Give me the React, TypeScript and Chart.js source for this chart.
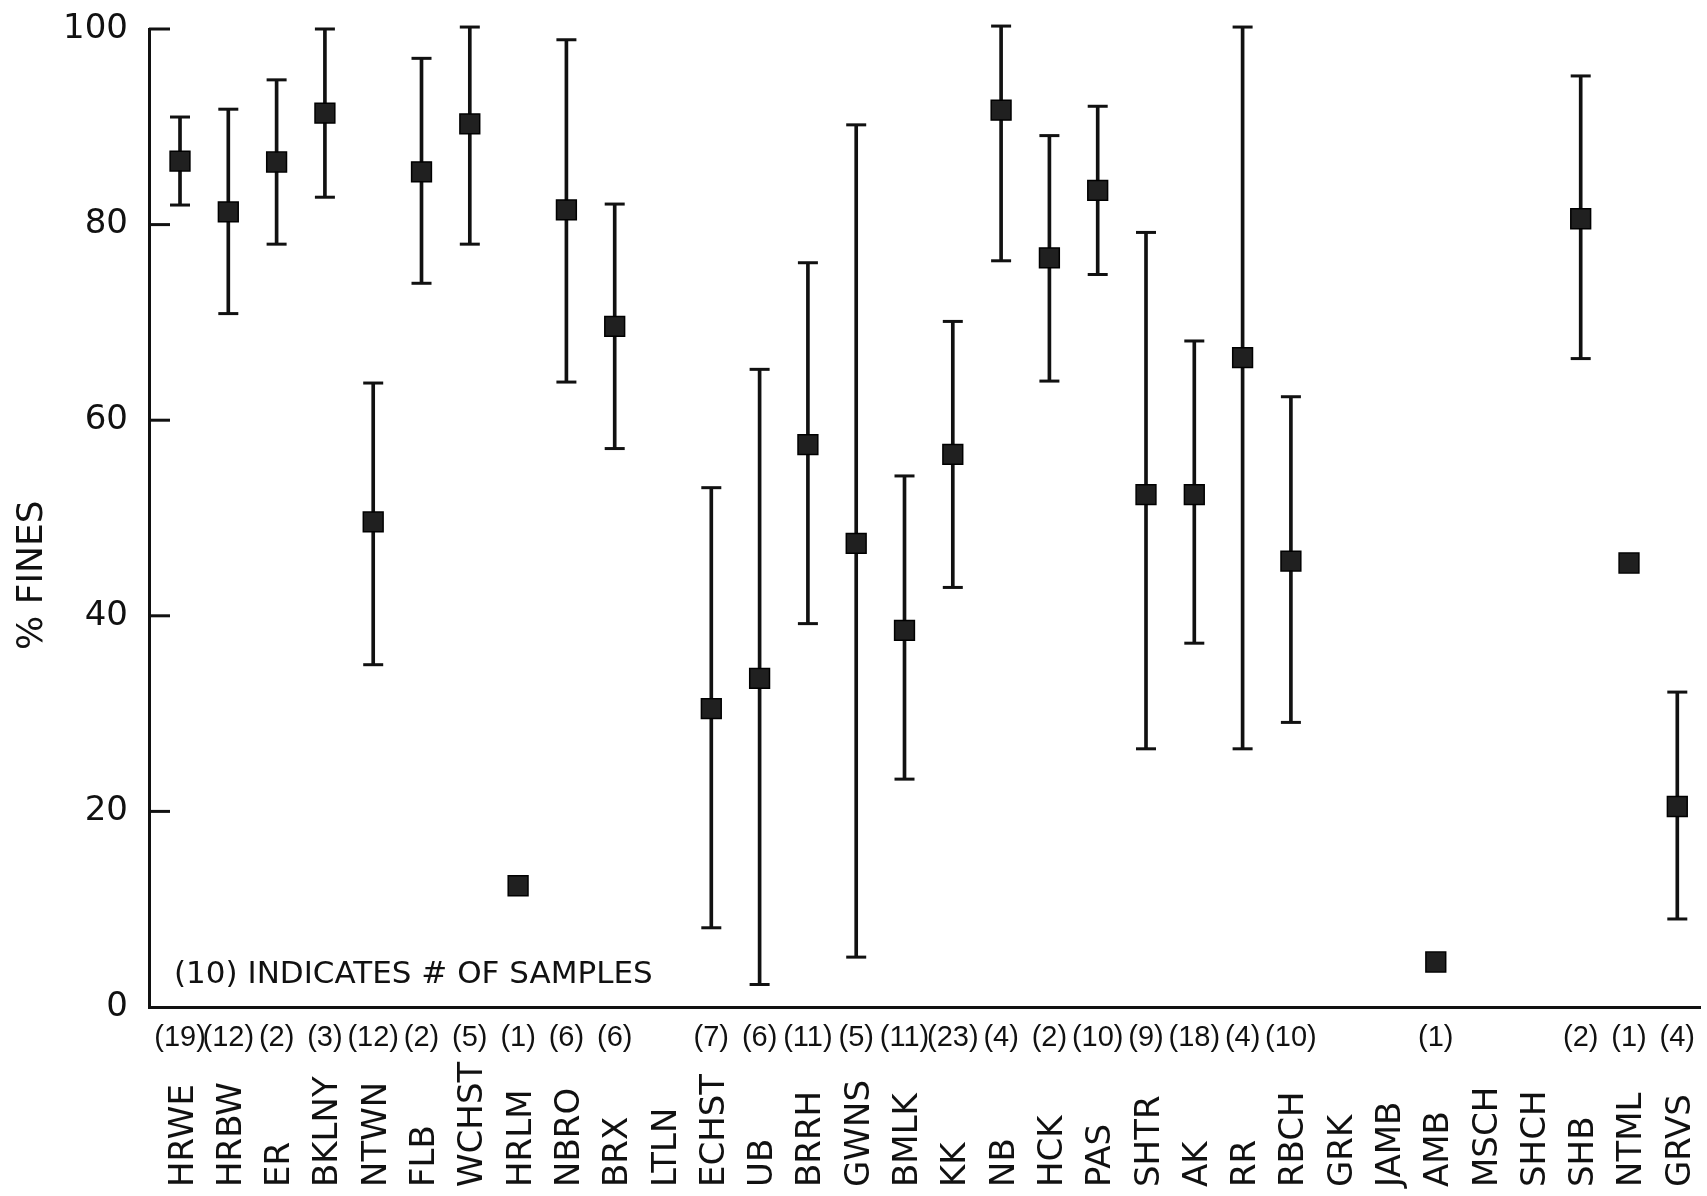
import React, { useEffect, useRef } from 'react';
import { Chart, registerables } from 'chart.js';

Chart.register(...registerables);

// ---------- data ----------
const categories = [
  'HRWE', 'HRBW', 'ER', 'BKLNY', 'NTWN', 'FLB', 'WCHST', 'HRLM', 'NBRO', 'BRX', 'LTLN',
  'ECHST', 'UB', 'BRRH', 'GWNS', 'BMLK', 'KK', 'NB', 'HCK', 'PAS', 'SHTR', 'AK', 'RR',
  'RBCH', 'GRK', 'JAMB', 'AMB', 'MSCH', 'SHCH', 'SHB', 'NTML', 'GRVS',
];

const sampleCounts = [
  19, 12, 2, 3, 12, 2, 5, 1, 6, 6, null,
  7, 6, 11, 5, 11, 23, 4, 2, 10, 9, 18, 4,
  10, null, null, 1, null, null, 2, 1, 4,
];

const meanFines = [
  86.5, 81.3, 86.4, 91.4, 49.6, 85.4, 90.3, 12.4, 81.5, 69.6, null,
  30.5, 33.6, 57.5, 47.4, 38.5, 56.5, 91.7, 76.6, 83.5, 52.4, 52.4, 66.4,
  45.6, null, null, 4.6, null, null, 80.6, 45.4, 20.5,
];

const lowFines = [
  82.0, 70.9, 78.0, 82.8, 35.0, 74.0, 78.0, null, 63.9, 57.1, null,
  8.1, 2.3, 39.2, 5.1, 23.3, 42.9, 76.3, 64.0, 74.9, 26.4, 37.2, 26.4,
  29.1, null, null, null, null, null, 66.3, null, 9.0,
];

const highFines = [
  91.0, 91.8, 94.8, 100.0, 63.8, 97.0, 100.2, null, 98.9, 82.1, null,
  53.1, 65.2, 76.1, 90.2, 54.3, 70.1, 100.3, 89.1, 92.1, 79.2, 68.1, 100.2,
  62.4, null, null, null, null, null, 95.2, null, 32.2,
];

const yTickValues = [0, 20, 40, 60, 80, 100];
const yTitle = '% FINES';
const noteText = '(10) INDICATES # OF SAMPLES';

// ---------- styling ----------
const INK = '#111111';
const SANS = '"DejaVu Sans", "Liberation Sans", sans-serif';
const NBSP = '\u00A0';

const rangeData = categories
  .map((_, i) =>
    lowFines[i] != null && highFines[i] != null ? { x: i, y: [lowFines[i], highFines[i]] } : null
  )
  .filter(Boolean);

const capData = categories.flatMap((_, i) =>
  lowFines[i] != null && highFines[i] != null
    ? [
        { x: i, y: lowFines[i] },
        { x: i, y: highFines[i] },
      ]
    : []
);

const meanData = categories
  .map((_, i) => (meanFines[i] != null ? { x: i, y: meanFines[i] } : null))
  .filter(Boolean);

const decorPlugin = {
  id: 'decor',
  afterDraw(chart: any) {
    const { ctx } = chart;
    const xs = chart.scales.x;
    const ys = chart.scales.y;
    ctx.save();
    // inward tick marks on the y axis
    ctx.strokeStyle = INK;
    ctx.lineWidth = 3;
    yTickValues.forEach((v) => {
      if (v === 0) return;
      const y = ys.getPixelForValue(v);
      ctx.beginPath();
      ctx.moveTo(ys.right, y);
      ctx.lineTo(ys.right + 21, y);
      ctx.stroke();
    });
    // station names, vertical, bottom aligned
    ctx.fillStyle = INK;
    ctx.font = `34px ${SANS}`;
    ctx.textAlign = 'left';
    ctx.textBaseline = 'alphabetic';
    categories.forEach((name, i) => {
      const x = xs.getPixelForValue(i);
      ctx.save();
      ctx.translate(x, xs.bottom - 9);
      ctx.rotate(-Math.PI / 2);
      ctx.fillText(name, 0, 12.5);
      ctx.restore();
    });
    // note inside plot
    ctx.font = `31px ${SANS}`;
    ctx.fillText(noteText, xs.left + 25, ys.getPixelForValue(0) - 24);
    ctx.restore();
  },
};

export default function App() {
  const ref = useRef<HTMLCanvasElement>(null);

  useEffect(() => {
    if (!ref.current) return;
    const chart = new Chart(ref.current, {
      type: 'scatter',
      data: {
        datasets: [
          {
            type: 'bar',
            data: rangeData as any,
            backgroundColor: INK,
            borderWidth: 0,
            barThickness: 3,
            clip: false as any,
            order: 3,
          } as any,
          {
            type: 'scatter',
            data: capData,
            pointStyle: 'line',
            pointRadius: 10,
            pointBorderWidth: 3,
            pointBorderColor: INK,
            pointBackgroundColor: INK,
            borderColor: INK,
            clip: false as any,
            order: 2,
          } as any,
          {
            type: 'scatter',
            data: meanData,
            pointStyle: 'rect',
            pointRadius: 14,
            pointBorderWidth: 1.5,
            pointBorderColor: '#000000',
            pointBackgroundColor: '#202020',
            borderColor: '#000000',
            clip: false as any,
            order: 1,
          } as any,
        ],
      },
      options: {
        responsive: false,
        animation: false,
        devicePixelRatio: 1,
        layout: { autoPadding: false, padding: { top: 29, right: 7, bottom: 0, left: 0 } },
        plugins: {
          legend: { display: false },
          tooltip: { enabled: false },
        },
        events: [],
        scales: {
          x: {
            type: 'linear',
            min: -0.642,
            max: 31.47,
            offset: false,
            afterBuildTicks: (s: any) => {
              s.ticks = categories.map((_, i) => ({ value: i }));
            },
            afterFit: (s: any) => {
              s.height = 189;
              s.paddingLeft = 0;
              s.paddingRight = 0;
              s.paddingTop = 0;
              s.paddingBottom = 0;
            },
            border: { display: true, color: INK, width: 3 },
            grid: { display: true, drawOnChartArea: false, drawTicks: false, tickLength: 0 },
            ticks: {
              autoSkip: false,
              maxRotation: 0,
              minRotation: 0,
              padding: 14,
              color: INK,
              font: { family: '"Liberation Sans", sans-serif', size: 29 },
              callback: (v: any) => {
                const n = sampleCounts[Math.round(Number(v))];
                return n == null ? '' : `(${n})`;
              },
            },
          },
          y: {
            type: 'linear',
            min: 0,
            max: 100,
            afterBuildTicks: (s: any) => {
              s.ticks = yTickValues.map((v) => ({ value: v }));
            },
            afterFit: (s: any) => {
              s.width = 149;
              s.paddingLeft = 0;
              s.paddingRight = 0;
              s.paddingTop = 0;
              s.paddingBottom = 0;
            },
            border: { display: true, color: INK, width: 3 },
            grid: { display: true, drawOnChartArea: false, drawTicks: false, tickLength: 0 },
            ticks: {
              padding: 21,
              color: INK,
              font: { family: SANS, size: 34 },
            },
            title: {
              display: true,
              text: yTitle + NBSP.repeat(10),
              color: INK,
              font: { family: SANS, size: 36 },
              padding: { top: 11, bottom: 0 },
            },
          },
        },
      },
      plugins: [decorPlugin],
    } as any);
    return () => chart.destroy();
  }, []);

  return (
    <div style={{ position: 'absolute', left: 0, top: 0, width: 1707, height: 1196, background: '#ffffff' }}>
      <canvas ref={ref} width={1707} height={1196} style={{ display: 'block', width: 1707, height: 1196 }} />
    </div>
  );
}
